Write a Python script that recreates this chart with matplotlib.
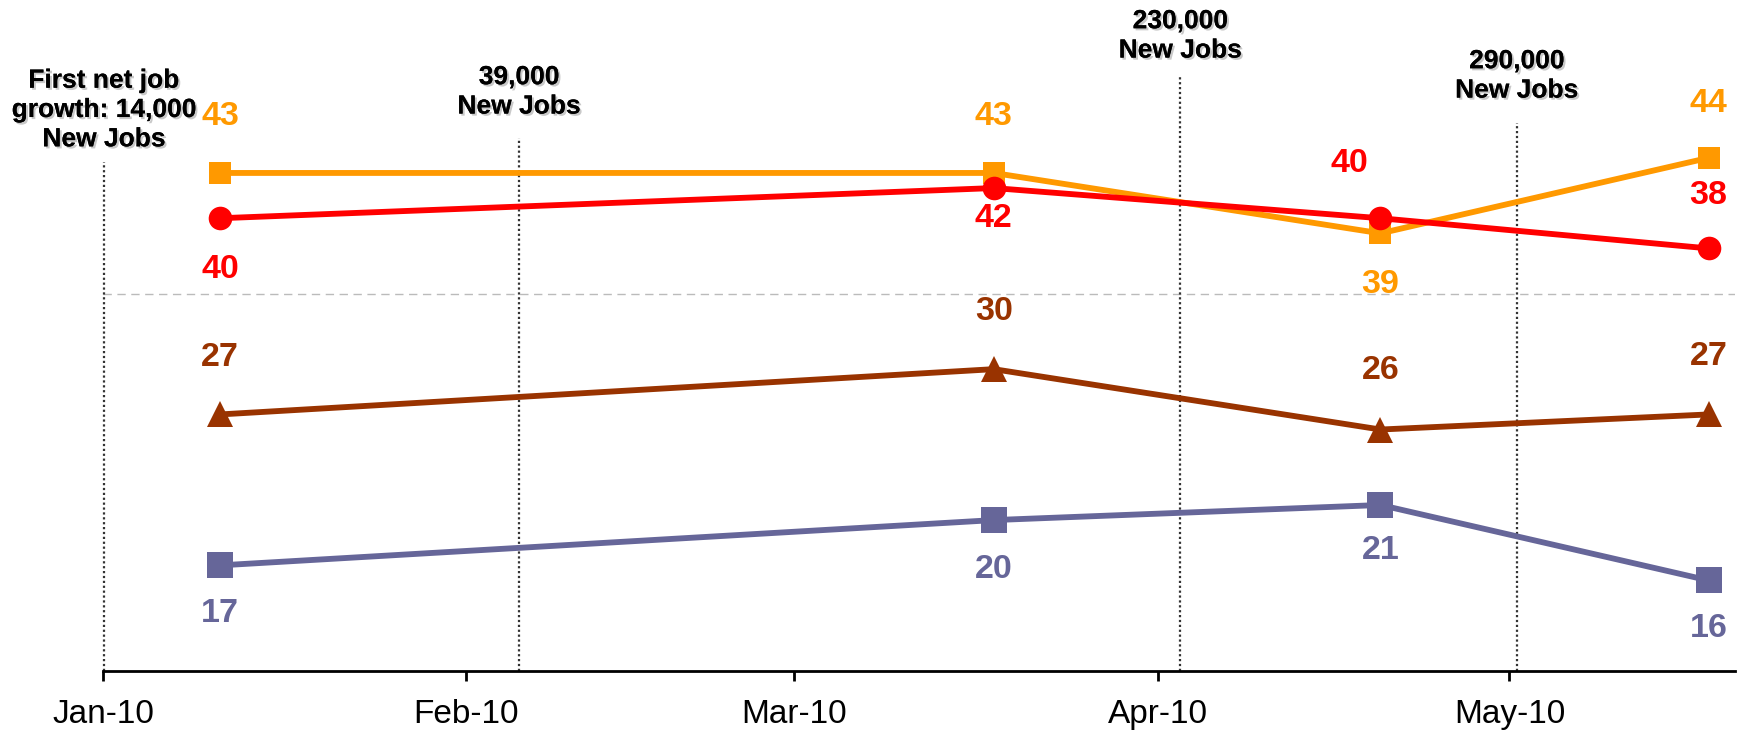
import matplotlib
matplotlib.use("Agg")
import matplotlib.pyplot as plt
import matplotlib.patheffects as pe
import pandas as pd

# ---- data ----
dates = ["2010-01-11", "2010-03-18", "2010-04-20", "2010-05-18"]
orange_vals = [43, 43, 39, 44]
red_vals = [40, 42, 40, 38]
brown_vals = [27, 30, 26, 27]
purple_vals = [17, 20, 21, 16]

tick_dates = ["2010-01-01", "2010-02-01", "2010-03-01", "2010-04-01", "2010-05-01"]
tick_labels = ["Jan-10", "Feb-10", "Mar-10", "Apr-10", "May-10"]

event_dates = ["2010-01-01 02:00", "2010-02-05 12:00", "2010-04-02 22:00", "2010-05-01 15:00"]
event_texts = ["First net job\ngrowth: 14,000\nNew Jobs", "39,000\nNew Jobs",
               "230,000\nNew Jobs", "290,000\nNew Jobs"]
event_line_tops = [43.73, 45.32, 49.43, 46.31]
event_text_y = [47.17, 48.37, 52.08, 49.43]

plt.rcParams['font.family'] = ['Liberation Sans', 'DejaVu Sans']

fig = plt.figure(figsize=(17.44, 7.34), dpi=100)
ax = fig.add_axes([103 / 1744, 63 / 734, (1735 - 103) / 1744, 671 / 734])

x = pd.to_datetime(dates)

series = [
    (orange_vals, "#FF9900", "s", 16.5, [-56, -56, 51, -54], [0, 0, 0, 0]),
    (red_vals, "#FF0000", "o", 17, [51, 30, -55, -53], [0, 0, -31, 0]),
    (brown_vals, "#993300", "^", 19, [-57, -58, -59, -58], [0, 0, 0, 0]),
    (purple_vals, "#666699", "s", 19, [48, 49, 46, 48], [0, 0, 0, 0]),
]

for vals, col, mk, ms, dy, dx in series:
    ax.plot(x, vals, color=col, lw=4.2, marker=mk, markersize=ms,
            markeredgewidth=0, zorder=3, solid_capstyle='butt')
    for xi, v, oy, ox in zip(x, vals, dy, dx):
        ax.annotate(str(v), (xi, v), xytext=(ox, -oy), textcoords='offset pixels',
                    ha='center', va='center', fontsize=24.5, fontweight='bold',
                    color=col, zorder=4, annotation_clip=False)

# dashed gridline
ax.axhline(35, color="#BBBBBB", lw=1, ls=(0, (6, 4)), zorder=1)

# event lines and texts
shadow = [pe.withSimplePatchShadow(offset=(1.5, -1.5), shadow_rgbFace="#888888", alpha=0.45),
          pe.Normal()]
for d, t, top, ty in zip(event_dates, event_texts, event_line_tops, event_text_y):
    dt = pd.Timestamp(d)
    ax.plot([dt, dt], [10, top], color="#333333", lw=1.6, ls=(0, (1, 1.2)),
            zorder=2, clip_on=False)
    ax.text(dt, ty, t, ha='center', va='center', fontsize=19, fontweight='bold',
            color='black', linespacing=1.28, clip_on=False, zorder=5,
            path_effects=shadow)

ax.set_ylim(10, 54.46)
ax.set_xlim(pd.Timestamp("2010-01-01"), pd.Timestamp("2010-05-20 06:00"))
ax.set_xticks(pd.to_datetime(tick_dates))
ax.set_xticklabels(tick_labels, fontsize=24)
ax.set_yticks([])
for s in ["left", "right", "top"]:
    ax.spines[s].set_visible(False)
ax.spines["bottom"].set_linewidth(2)
ax.tick_params(axis='x', direction='out', length=7, width=2, pad=13)
ax.patch.set_alpha(0)

fig.savefig("out.png", dpi=100)
